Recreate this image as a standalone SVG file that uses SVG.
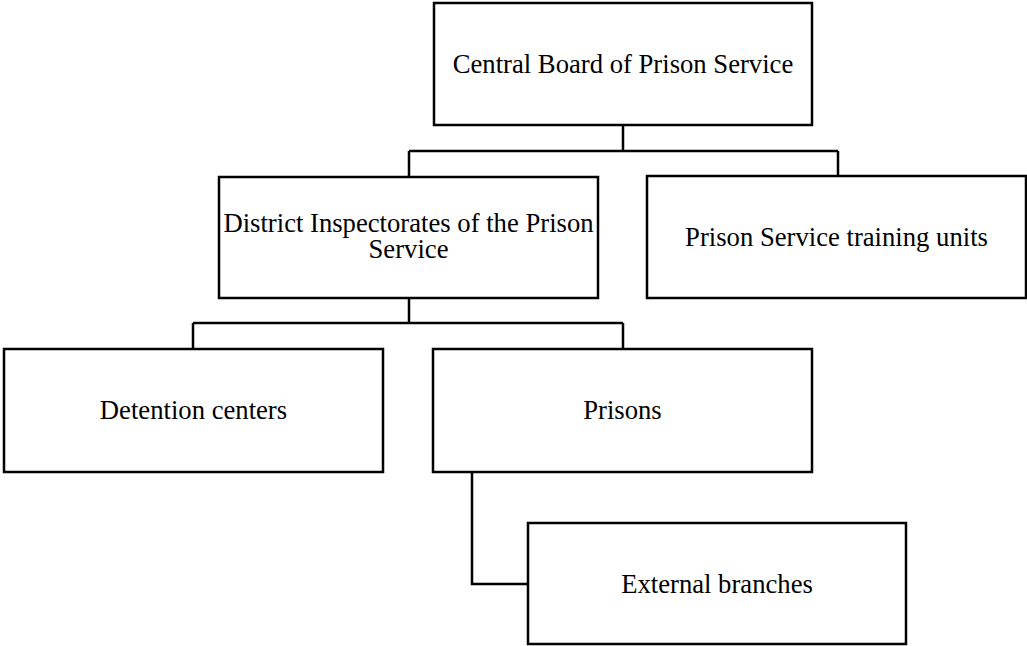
<svg xmlns="http://www.w3.org/2000/svg" width="1027" height="646" viewBox="0 0 1027 646">
<style>
.box{fill:#fff;stroke:#000;stroke-width:2.5}
.con{fill:none;stroke:#000;stroke-width:2.5}
.lbl{font-family:"Liberation Serif","Times New Roman",serif;font-size:26.67px;fill:#000;text-anchor:middle}
</style>
<rect width="1027" height="646" fill="#fff"/>
<g id="connectors">
<path class="con" d="M623 125V151M409 151H838M409 151V177M838 151V176"/>
<path class="con" d="M409 298V323M193 323H623M193 323V349M623 323V349"/>
<path class="con" d="M472 472V584H528"/>
</g>
<g id="central"><rect class="box" x="434" y="3" width="378" height="122"/><text class="lbl" x="623" y="73">Central Board of Prison Service</text></g>
<g id="district"><rect class="box" x="219" y="177" width="379" height="121"/><text class="lbl" x="408.5" y="232">District Inspectorates of the Prison</text><text class="lbl" x="408.5" y="258">Service</text></g>
<g id="training"><rect class="box" x="647" y="176" width="379" height="122"/><text class="lbl" x="836.5" y="246">Prison Service training units</text></g>
<g id="detention"><rect class="box" x="4" y="349" width="379" height="123"/><text class="lbl" x="193.5" y="419">Detention centers</text></g>
<g id="prisons"><rect class="box" x="433" y="349" width="379" height="123"/><text class="lbl" x="622.5" y="419">Prisons</text></g>
<g id="external"><rect class="box" x="528" y="523" width="378" height="121"/><text class="lbl" x="717" y="593">External branches</text></g>
</svg>
